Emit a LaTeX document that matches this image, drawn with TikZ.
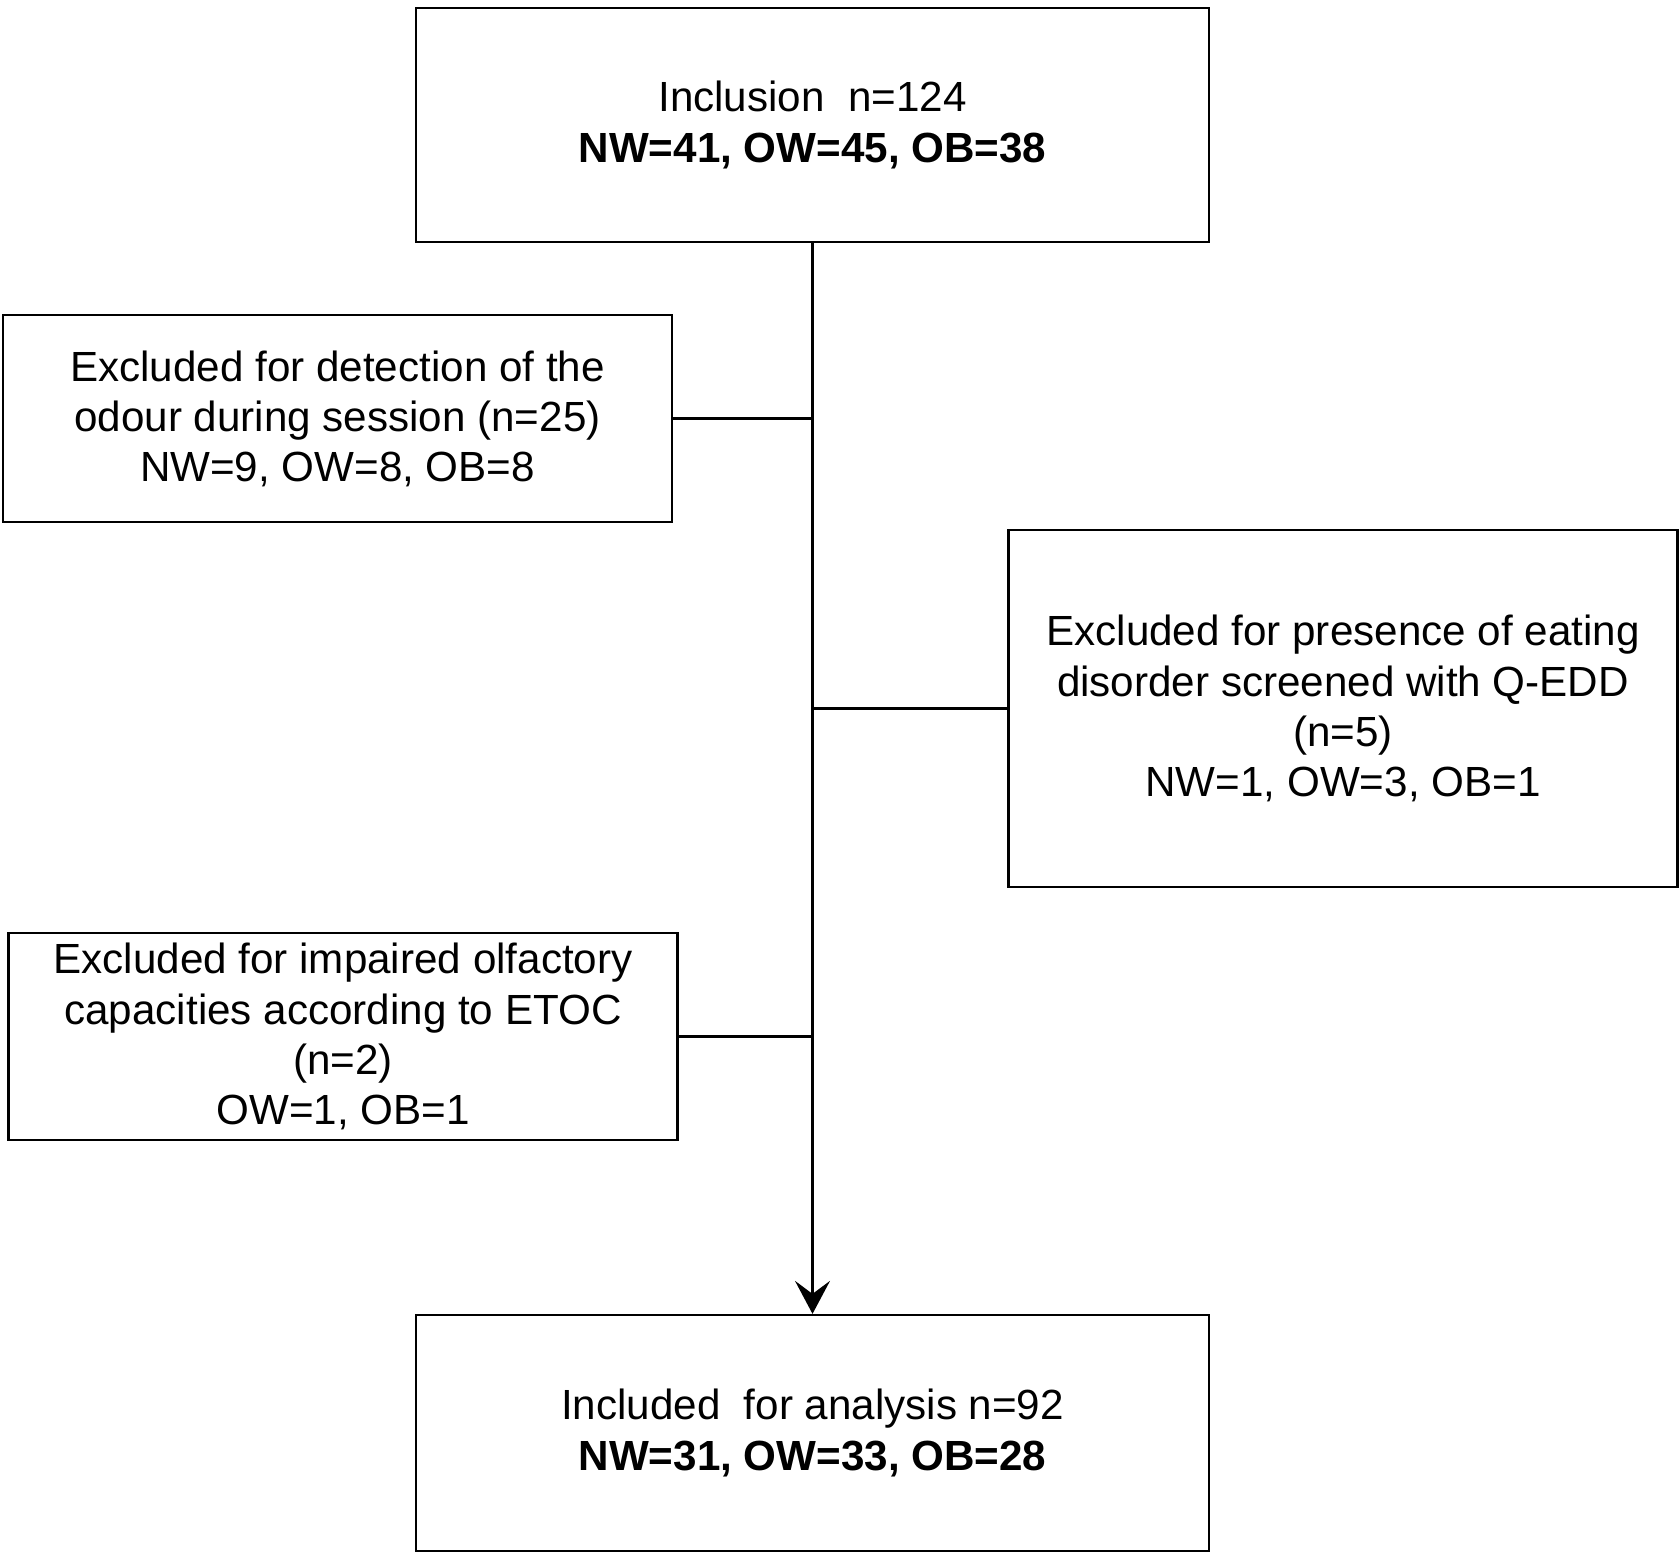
\documentclass[tikz,border=0pt]{standalone}
\usepackage{fontspec}
\setmainfont{Liberation Sans}
\usepackage{tikz}
\usetikzlibrary{arrows.meta,positioning,calc}

\begin{document}
\begin{tikzpicture}[
    every node/.style={font=\fontsize{24}{28.5}\selectfont},
    mainbox/.style={draw, line width=1.3pt, align=center, minimum width=15.86cm},
    exclbox/.style={draw, line width=1.3pt, align=center, minimum width=13.38cm},
    flow/.style={line width=1.3pt}
]
\useasboundingbox (0,0) rectangle (33.6,-31.14);
\node[mainbox, minimum height=4.67cm] (incl) at (16.25,-2.5) {Inclusion\ \ n=124\\\textbf{NW=41, OW=45, OB=38}};
\node[exclbox, minimum height=4.14cm] (exclodour) at (6.75,-8.37) {Excluded for detection of the\\odour during session (n=25)\\NW=9, OW=8, OB=8};
\node[exclbox, minimum height=7.14cm] (excleat) at (26.86,-14.17) {Excluded for presence of eating\\disorder screened with Q-EDD\\(n=5)\\NW=1, OW=3, OB=1};
\node[exclbox, minimum height=4.14cm] (exclolf) at (6.86,-20.73) {Excluded for impaired olfactory\\capacities according to ETOC\\(n=2)\\OW=1, OB=1};
\node[mainbox, minimum height=4.72cm] (anal) at (16.25,-28.66) {Included\ \ for analysis n=92\\\textbf{NW=31, OW=33, OB=28}};

\draw[flow, -{Stealth[length=0.66cm, width=0.7cm, inset=0.26cm]}] (incl) -- (anal);
\draw[flow] (exclodour.east) -- (exclodour.east -| incl.south);
\draw[flow] (excleat.west) -- (excleat.west -| incl.south);
\draw[flow] (exclolf.east) -- (exclolf.east -| incl.south);
\end{tikzpicture}
\end{document}
